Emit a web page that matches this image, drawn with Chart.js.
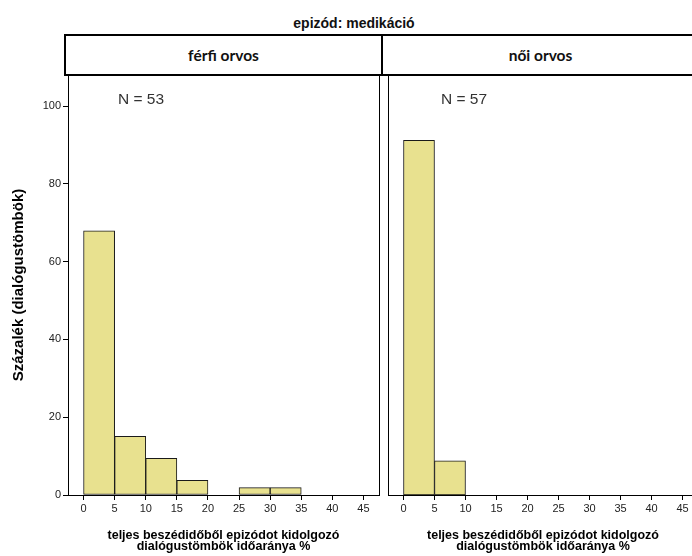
<!DOCTYPE html>
<html>
<head>
<meta charset="utf-8">
<script src="https://cdn.jsdelivr.net/npm/chart.js@4/dist/chart.umd.min.js"></script>
<style>
    body { margin: 0; background: #fff; }
    #wrap { position: relative; width: 692px; height: 556px; overflow: hidden; background: #fff; }
    #title { position: absolute; left: 0; top: 16px; width: 708px; text-align: center;
        font: bold 14px "Liberation Sans", Arial, sans-serif; line-height: 14px; color: #111; }
    #head { position: absolute; left: 64px; top: 34px; width: 660px; height: 42px;
        box-sizing: border-box; border: 2px solid #000; }
    .cell { position: absolute; top: 0; height: 38px; text-align: center;
        font: bold 15.5px Lato, "Open Sans", sans-serif; line-height: 38px; color: #111; }
    #divider { position: absolute; left: 315px; top: 0; width: 2px; height: 38px; background: #000; }
    canvas { position: absolute; top: 75px; }
    .n { position: absolute; top: 90px; font: 15.5px "Liberation Sans", Arial, sans-serif; color: #333; }
</style>
</head>
<body>
<div id="wrap">
    <div id="title">epizód: medikáció</div>
    <div id="head">
        <div class="cell" style="left:0;width:315px">férfi orvos</div>
        <div id="divider"></div>
        <div class="cell" style="left:317px;width:315px">női orvos</div>
    </div>
    <canvas id="ferfiChart" width="381" height="481" style="left:0"></canvas>
    <canvas id="noiChart" width="317" height="481" style="left:381px"></canvas>
    <div class="n" style="left:118px">N = 53</div>
    <div class="n" style="left:441px">N = 57</div>
</div>
<script>
// bin midpoints (%) and percentage of dialogue blocks per bin
const ferfiBins = [2.5, 7.5, 12.5, 17.5, 27.5, 32.5];
const ferfiPct = [67.9, 15.1, 9.4, 3.8, 1.9, 1.9];
const noiBins = [2.5, 7.5];
const noiPct = [91.2, 8.8];

const xTicks = [0, 5, 10, 15, 20, 25, 30, 35, 40, 45];
const yTicks = [0, 20, 40, 60, 80, 100];

const xTitle = ['teljes beszédidőből epizódot kidolgozó', 'dialógustömbök időaránya %'];
const yTitle = 'Százalék (dialógustömbök)';

const barFill = '#e8e18f';
const tickFont = { family: '"Liberation Sans", Arial, sans-serif', size: 11 };
const titleFont = { family: '"Liberation Sans", Arial, sans-serif', size: 12.5, weight: 'bold', lineHeight: 0.9 };

// no extra padding for half-labels, the plot box must sit flush under the header
function noPad(scale) {
    scale.paddingTop = 0;
    scale.paddingBottom = 0;
    scale.paddingLeft = 0;
    scale.paddingRight = 0;
}

function makeHist(canvas, bins, pct, isFirst) {
    const scales = {
        x: {
            type: 'linear',
            min: -2.5,
            max: 47.5,
            offset: false,
            afterBuildTicks: (scale) => { scale.ticks = xTicks.map((v) => ({ value: v })); },
            afterFit: (scale) => { scale.height = 61; noPad(scale); },
            grid: { display: true, drawOnChartArea: false, offset: false, tickLength: 5, color: '#000' },
            border: { display: true, color: '#000', width: 1 },
            ticks: { color: '#222', font: tickFont, padding: 2, maxRotation: 0, autoSkip: false },
            title: { display: true, text: xTitle, color: '#000', font: titleFont, padding: { top: 0, bottom: 4 } },
        },
        y: {
            min: 0,
            max: 108,
            afterBuildTicks: (scale) => { scale.ticks = yTicks.map((v) => ({ value: v })); },
            afterFit: (scale) => { scale.width = isFirst ? 68 : 7; noPad(scale); },
            grid: { display: isFirst, drawOnChartArea: false, tickLength: 5, color: '#000' },
            border: { display: true, color: '#000', width: 1 },
            ticks: { display: isFirst, color: '#222', font: tickFont, padding: 2 },
            title: {
                display: isFirst,
                text: yTitle,
                color: '#000',
                font: { family: '"Liberation Sans", Arial, sans-serif', size: 15, weight: 'bold' },
                padding: { top: 10, bottom: 0 },
            },
        },
    };
    if (isFirst) {
        // right-hand frame line of the first panel
        scales.yRight = {
            position: 'right',
            min: 0,
            max: 108,
            afterFit: (scale) => { scale.width = 0; noPad(scale); },
            grid: { display: false },
            border: { display: true, color: '#000', width: 1 },
            ticks: { display: false },
        };
    }
    return new Chart(canvas, {
        type: 'bar',
        data: {
            datasets: [
                {
                    data: bins.map((b, i) => ({ x: b, y: pct[i] })),
                    backgroundColor: barFill,
                    borderColor: '#1a1a1a',
                    borderWidth: 1,
                    borderSkipped: false,
                    barPercentage: 1,
                    categoryPercentage: 1,
                },
            ],
        },
        options: {
            responsive: false,
            animation: false,
            layout: { padding: { left: 0, right: isFirst ? 2 : 0, top: 0, bottom: 0 } },
            plugins: { legend: { display: false }, tooltip: { enabled: false } },
            scales: scales,
        },
    });
}

makeHist(document.getElementById('ferfiChart'), ferfiBins, ferfiPct, true);
makeHist(document.getElementById('noiChart'), noiBins, noiPct, false);
</script>
</body>
</html>
